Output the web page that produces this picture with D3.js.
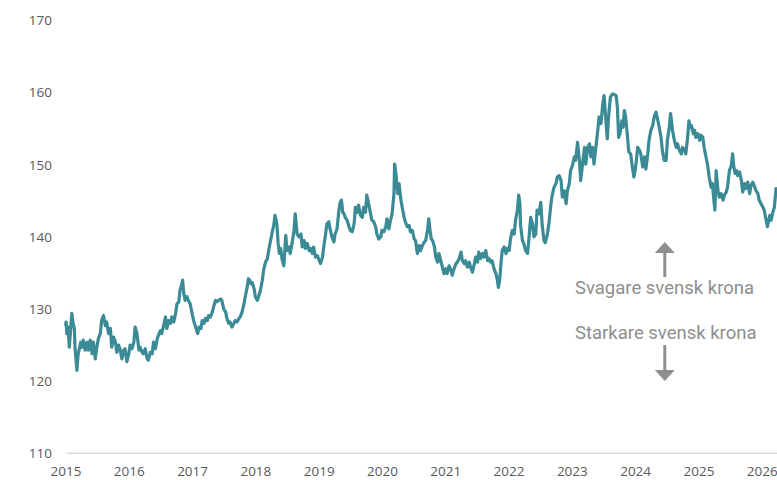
<!DOCTYPE html>
<html>
<head>
<meta charset="utf-8">
<script src="https://cdn.jsdelivr.net/npm/d3@7"></script>
<style>
  html, body { margin: 0; padding: 0; background: #ffffff; }
  svg { display: block; }
</style>
</head>
<body>
<svg id="chart" width="777" height="480"></svg>
<script>
// SEK index, sampled dates as decimal years
const dates = [
  2015.00,2015.01,2015.02,2015.04,2015.06,2015.08,2015.10,2015.12,2015.14,2015.15,2015.18,2015.20,2015.22,2015.24,2015.26,2015.28,
  2015.31,2015.34,2015.36,2015.39,2015.42,2015.44,2015.47,2015.50,2015.52,2015.55,2015.57,2015.60,2015.63,2015.65,2015.68,2015.71,
  2015.73,2015.76,2015.79,2015.81,2015.84,2015.86,2015.89,2015.92,2015.94,2015.97,2016.00,2016.02,2016.05,2016.08,2016.10,2016.13,
  2016.16,2016.18,2016.21,2016.23,2016.26,2016.29,2016.31,2016.34,2016.37,2016.39,2016.42,2016.45,2016.47,2016.50,2016.52,2016.55,
  2016.58,2016.60,2016.63,2016.66,2016.68,2016.71,2016.74,2016.76,2016.79,2016.81,2016.84,
  2016.85,2016.87,2016.89,2016.92,2016.94,2016.97,2017.00,2017.03,2017.05,2017.08,2017.09,2017.11,2017.14,2017.16,2017.19,2017.21,
  2017.24,2017.26,2017.29,2017.32,2017.34,2017.37,2017.39,2017.42,2017.45,2017.47,2017.50,2017.53,2017.55,2017.58,2017.60,2017.63,
  2017.66,2017.68,2017.71,2017.74,2017.76,2017.79,2017.82,2017.84,2017.87,2017.89,2017.91,2017.93,2017.95,2017.98,2018.00,2018.03,
  2018.05,2018.08,2018.11,2018.13,2018.16,2018.19,2018.21,2018.24,2018.26,2018.29,2018.31,2018.34,2018.36,2018.38,2018.40,2018.42,
  2018.45,2018.48,2018.50,2018.53,2018.55,2018.58,2018.61,2018.63,2018.66,2018.69,
  2018.72,2018.74,2018.77,2018.79,2018.82,2018.85,2018.87,2018.90,2018.92,2018.95,2018.98,2019.01,2019.03,2019.06,2019.08,2019.11,
  2019.13,2019.16,2019.18,2019.21,2019.24,2019.26,2019.29,2019.32,2019.34,2019.36,2019.38,2019.40,2019.42,2019.45,2019.48,2019.50,
  2019.53,2019.56,2019.58,2019.61,2019.63,2019.66,2019.69,2019.71,2019.74,2019.76,2019.79,2019.82,2019.84,2019.87,2019.90,2019.92,
  2019.95,2019.98,2020.00,2020.03,2020.06,2020.08,2020.11,2020.13,2020.16,2020.19,2020.20,2020.22,2020.25,2020.27,2020.30,2020.32,
  2020.35,2020.37,2020.40,2020.43,2020.45,2020.48,2020.51,2020.53,2020.56,2020.59,
  2020.61,2020.64,2020.67,2020.69,2020.72,2020.74,2020.76,2020.78,2020.80,2020.83,2020.85,2020.88,2020.90,2020.93,2020.95,2020.98,
  2021.01,2021.03,2021.06,2021.09,2021.11,2021.14,2021.17,2021.19,2021.22,2021.25,2021.27,2021.30,2021.32,2021.35,2021.38,2021.40,
  2021.43,2021.46,2021.48,2021.51,2021.53,2021.56,2021.59,2021.61,2021.64,2021.67,2021.69,2021.72,2021.74,2021.77,2021.80,2021.82,
  2021.84,2021.86,2021.88,2021.90,2021.93,2021.96,2021.98,2022.01,2022.03,2022.06,2022.09,2022.11,2022.14,2022.16,2022.18,2022.19,
  2022.22,2022.24,2022.27,2022.30,2022.32,2022.35,2022.38,2022.40,2022.43,2022.45,2022.48,2022.51,2022.53,2022.56,2022.58,2022.61,
  2022.64,
  2022.67,2022.69,2022.72,2022.75,2022.77,2022.80,2022.83,2022.85,2022.88,2022.91,2022.93,2022.96,2022.98,2023.01,2023.04,2023.06,
  2023.09,2023.12,2023.14,2023.17,2023.20,2023.22,2023.25,2023.28,2023.30,2023.33,2023.35,2023.38,2023.41,2023.43,2023.46,2023.49,
  2023.51,2023.53,2023.56,2023.58,2023.61,2023.64,2023.66,2023.70,2023.72,2023.74,2023.76,2023.79,2023.81,2023.83,2023.85,2023.87,
  2023.90,2023.93,2023.95,2023.98,2024.00,2024.02,2024.04,2024.07,2024.09,2024.12,2024.15,2024.17,2024.20,2024.22,2024.25,2024.28,
  2024.30,2024.33,2024.36,2024.38,2024.41,2024.43,2024.46,
  2024.49,2024.51,2024.54,2024.56,2024.58,2024.59,2024.62,2024.65,2024.67,2024.70,2024.73,2024.75,2024.78,2024.80,2024.83,2024.85,
  2024.87,2024.89,2024.92,2024.94,2024.96,2024.99,2025.02,2025.04,2025.07,2025.09,2025.12,2025.15,2025.17,2025.20,2025.22,2025.24,
  2025.26,2025.28,2025.31,2025.33,2025.36,2025.39,2025.41,2025.44,2025.46,2025.49,2025.52,2025.54,2025.56,2025.58,2025.60,2025.62,
  2025.65,2025.68,2025.70,2025.73,2025.75,2025.78,2025.81,2025.83,2025.86,2025.89,2025.91,2025.94,2025.96,2025.99,2026.02,2026.04,
  2026.07,2026.09,2026.11,2026.13,2026.15,2026.17,2026.20,2026.22,2026.23
];

// Index level at each date
const kronaIndex = [
  127.7,128.2,126.6,127.5,124.7,127.0,129.4,128.0,127.3,124.7,121.5,123.8,124.5,125.4,124.7,125.7,
  124.3,125.4,124.3,125.7,123.8,125.4,123.1,125.0,125.9,126.6,128.4,129.1,127.7,128.2,126.6,127.3,
  124.7,126.1,125.4,124.0,125.0,124.5,123.1,124.3,124.5,122.7,123.8,125.0,124.5,125.4,127.5,126.6,
  124.3,124.7,124.0,123.8,124.5,123.1,122.9,124.0,123.8,125.4,124.5,125.9,126.4,127.0,126.6,127.7,
  128.9,127.3,128.4,128.0,128.9,128.2,129.4,130.7,131.0,132.6,133.5,
  134.0,132.1,131.2,131.7,131.2,130.7,129.4,128.2,127.7,126.8,126.6,127.5,127.3,128.4,128.0,128.7,
  128.4,129.1,128.9,129.6,130.3,131.2,131.0,131.2,131.4,131.2,130.0,129.6,128.7,128.0,128.2,127.5,
  128.0,128.4,128.2,128.7,128.9,129.6,130.7,131.7,133.0,134.2,134.0,133.5,133.7,132.8,131.7,131.2,
  131.7,132.6,134.0,135.4,136.5,137.0,138.1,139.5,140.4,141.6,143.0,141.8,139.1,137.7,138.4,137.0,
  136.0,140.2,138.1,138.6,137.7,139.1,140.9,143.2,140.4,140.0,
  140.4,138.6,139.5,138.4,139.1,138.1,138.4,137.7,138.6,137.2,137.4,136.7,136.3,137.2,138.6,140.4,
  141.8,142.1,141.1,140.0,139.3,140.4,141.1,143.7,144.8,145.1,143.4,143.2,142.7,142.3,141.4,140.9,
  140.7,141.8,144.1,143.4,144.4,143.0,142.7,144.1,143.4,145.8,144.6,143.2,142.3,142.1,141.4,140.4,
  139.7,140.0,140.9,140.7,141.4,142.5,141.1,142.1,143.2,146.0,150.1,148.8,146.0,147.4,145.1,144.1,
  142.7,142.1,141.4,141.6,140.7,140.9,139.7,139.5,137.7,138.8,
  138.1,138.8,139.3,139.5,140.9,142.5,140.9,139.7,139.5,138.6,137.2,136.5,137.7,136.7,136.0,134.9,
  135.6,134.9,136.0,135.4,134.7,135.6,136.3,136.5,137.0,137.9,136.7,136.3,136.7,135.8,136.5,135.8,
  135.1,136.3,137.2,136.5,137.9,137.0,137.7,137.2,138.1,136.7,137.0,136.5,136.7,135.6,134.9,134.2,
  133.0,134.0,136.3,138.1,138.6,137.7,138.4,138.1,139.7,140.9,140.4,142.3,143.7,145.8,144.6,141.6,
  139.5,139.1,138.1,137.7,139.5,142.7,141.8,140.0,140.4,143.7,143.2,144.8,141.8,139.5,139.2,140.2,
  142.0,
  144.6,145.8,146.9,147.4,148.3,148.5,147.8,145.5,146.4,144.6,146.4,147.4,149.2,149.9,151.1,150.6,
  153.1,150.6,147.8,150.1,152.4,150.1,152.4,152.9,151.1,152.4,150.1,152.4,154.8,156.6,155.7,158.5,
  159.6,157.1,153.6,156.6,159.4,159.8,159.8,159.6,158.0,153.8,154.3,156.1,155.2,157.5,156.6,154.8,
  151.8,151.5,150.1,148.3,149.2,150.6,152.4,152.0,151.5,149.7,151.1,149.4,151.5,153.4,154.8,155.5,
  156.6,157.3,156.1,155.2,153.8,152.0,150.6,
  150.6,153.4,155.2,157.1,155.7,154.8,153.4,152.4,152.9,152.0,151.5,152.4,152.0,151.5,153.8,156.1,
  155.2,155.4,154.3,154.8,153.8,154.3,153.4,154.1,153.8,152.4,151.1,149.7,148.3,146.9,147.4,145.5,
  143.7,149.2,146.4,145.5,146.0,145.1,145.8,146.2,146.9,149.2,149.9,151.5,149.7,148.8,149.2,148.5,
  149.0,147.8,146.2,147.4,146.7,147.6,146.0,147.1,147.6,146.9,146.4,146.0,145.1,144.6,144.1,143.7,
  142.3,141.4,142.3,143.0,142.3,143.2,144.1,146.0,146.9
];

const yearTicks = [2015, 2016, 2017, 2018, 2019, 2020, 2021, 2022, 2023, 2024, 2025, 2026];
const valueTicks = [110, 120, 130, 140, 150, 160, 170];
const upLabel = "Svagare svensk krona";
const downLabel = "Starkare svensk krona";

const series = dates.map((d, i) => ({ t: d, v: kronaIndex[i] }));

const svg = d3.select("#chart");

const x = d3.scaleLinear().domain([2015, 2026]).range([65.5, 761.7]);
const y = d3.scaleLinear().domain([110, 170]).range([453.3, 20.5]);

const axisFont = "'Open Sans', sans-serif";
const axisColor = "#595959";

// baseline at the bottom of the value range
svg.append("line")
  .attr("x1", 66.5).attr("x2", 777)
  .attr("y1", y(110)).attr("y2", y(110))
  .attr("stroke", "#d9d9d9")
  .attr("stroke-width", 1.5);

// value axis (labels only)
const yAxis = svg.append("g")
  .attr("transform", "translate(55,0)")
  .call(d3.axisLeft(y).tickValues(valueTicks).tickSize(0).tickPadding(3));
yAxis.select(".domain").remove();
yAxis.selectAll("text")
  .attr("font-family", axisFont)
  .attr("font-size", 13.5)
  .attr("fill", axisColor);

// year axis (labels only)
const xAxis = svg.append("g")
  .attr("transform", `translate(0,${y(110)})`)
  .call(d3.axisBottom(x).tickValues(yearTicks).tickFormat(d3.format("d")).tickSize(0).tickPadding(13.5));
xAxis.select(".domain").remove();
xAxis.selectAll("text")
  .attr("font-family", axisFont)
  .attr("font-size", 13.5)
  .attr("fill", axisColor);

// index line
const line = d3.line()
  .x(d => x(d.t))
  .y(d => y(d.v));

svg.append("path")
  .datum(series)
  .attr("fill", "none")
  .attr("stroke", "#3a8b95")
  .attr("stroke-width", 3.2)
  .attr("stroke-linejoin", "round")
  .attr("d", line);

// direction notes
const noteColor = "#8e8e8e";
const noteFont = "Roboto, 'Noto Sans', sans-serif";

svg.append("text")
  .attr("x", 575).attr("y", 294)
  .attr("font-family", noteFont)
  .attr("font-size", 18.5)
  .attr("fill", noteColor)
  .text(upLabel);

svg.append("text")
  .attr("x", 575).attr("y", 339)
  .attr("font-family", noteFont)
  .attr("font-size", 18.5)
  .attr("fill", noteColor)
  .text(downLabel);

const ax = 664.8;
// up arrow
svg.append("line")
  .attr("x1", ax).attr("x2", ax).attr("y1", 277).attr("y2", 252)
  .attr("stroke", noteColor).attr("stroke-width", 3);
svg.append("path")
  .attr("d", `M${ax - 10},253 L${ax + 10},253 L${ax},242 Z`)
  .attr("fill", noteColor);

// down arrow
svg.append("line")
  .attr("x1", ax).attr("x2", ax).attr("y1", 345).attr("y2", 371)
  .attr("stroke", noteColor).attr("stroke-width", 3);
svg.append("path")
  .attr("d", `M${ax - 10},370 L${ax + 10},370 L${ax},381 Z`)
  .attr("fill", noteColor);
</script>
</body>
</html>
